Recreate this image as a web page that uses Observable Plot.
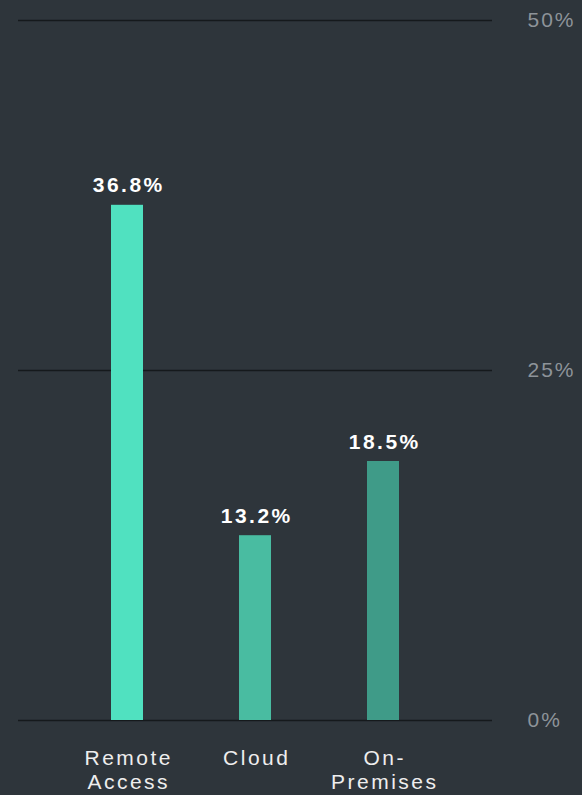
<!DOCTYPE html>
<html><head><meta charset="utf-8">
<script src="https://cdn.jsdelivr.net/npm/d3@7"></script>
<script src="https://cdn.jsdelivr.net/npm/@observablehq/plot@0.6"></script>
<style>
html,body{margin:0;padding:0;background:#2e353b;}
#chart svg{display:block;}
#chart svg text{letter-spacing:2.5px;}
#chart svg .ytick text{letter-spacing:2px;}
</style>
</head><body><div id="chart"></div>
<script>
const categories = ["Remote Access", "Cloud", "On-Premises"];
const labels = ["Remote\nAccess", "Cloud", "On-\nPremises"];
const values = [36.8, 13.2, 18.5];
const colors = ["#50e1c0", "#49bca1", "#3f9b88"];
const yTicks = [0, 25, 50];

const data = categories.map((c, i) => ({category: c, value: values[i], color: colors[i]}));
const labelMap = new Map(categories.map((c, i) => [c, labels[i]]));

const chart = Plot.plot({
  width: 582,
  height: 795,
  marginTop: 20,
  marginBottom: 75,
  marginLeft: 18,
  marginRight: 90,
  style: {background: "#2e353b", fontFamily: "'Liberation Sans', Arial, sans-serif", overflow: "visible"},
  x: {domain: categories, range: [63, 447], paddingInner: 0.75, paddingOuter: 0.375, label: null},
  y: {domain: [0, 50], label: null},
  marks: [
    Plot.ruleY(yTicks, {stroke: "#15191c", strokeWidth: 1.3}),
    Plot.barY(data, {x: "category", y: "value", fill: "color"}),
    Plot.text(data, {x: "category", y: "value", text: d => d.value.toFixed(1) + "%", lineAnchor: "bottom", dy: -13, dx: 1.25, fill: "#ffffff", fontSize: 21, fontWeight: "bold"}),
    Plot.axisY(yTicks, {anchor: "right", className: "ytick", tickSize: 0, tickPadding: 35, textAnchor: "start", tickFormat: d => d + "%", fill: "#8d9399", fontSize: 21, label: null}),
    Plot.axisX({tickSize: 0, tickPadding: 27, dx: 1.25, tickFormat: d => labelMap.get(d), fill: "#eeeeee", fontSize: 21, lineHeight: 1.15, label: null})
  ]
});
document.getElementById("chart").appendChild(chart);
</script>
</body></html>
